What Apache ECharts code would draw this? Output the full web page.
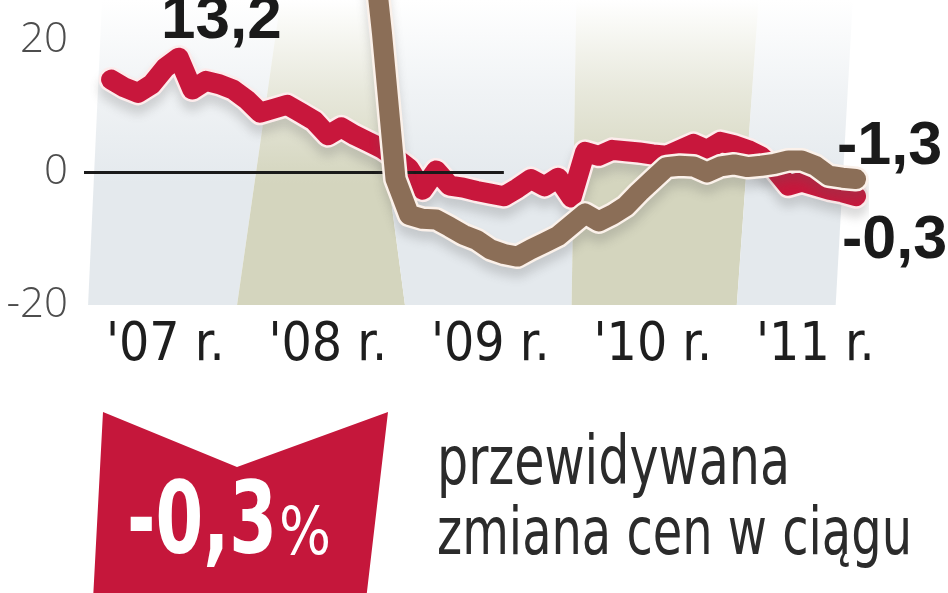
<!DOCTYPE html>
<html>
<head>
<meta charset="utf-8">
<script src="https://cdn.jsdelivr.net/npm/echarts@6/dist/echarts.min.js"></script>
<style>
html,body{margin:0;padding:0;background:#fff;}
#chart{width:948px;height:593px;}
</style>
</head>
<body>
<div id="chart"></div>
<script>
// ---- data ----
const months = [];
for (let y = 2007; y <= 2011; y++) {
  for (let m = 1; m <= 12; m++) {
    if (y === 2011 && m > 10) break;
    months.push(y + '-' + (m < 10 ? '0' + m : '' + m));
  }
}
const yearLabels = ["'07 r.", "'08 r.", "'09 r.", "'10 r.", "'11 r."];
const yTicks = [-20, 0, 20];

// red series (monthly, index 0 = 2007-01)
const redValues = [
  null, null, 14.0, 12.8, 12.0, 13.3, 15.8, 17.3, 12.5, 13.8, 13.3, 12.5,
  11.0, 9.0, 9.6, 10.2, 9.0, 7.8, 5.6, 6.8, 5.6, 4.6, 3.6, 2.2,
  0.6, -2.6, 0.3, -2.0, -2.3, -2.8, -3.2, -3.6, -2.4, -1.0, -2.1, -0.8,
  -3.8, 3.1, 2.5, 3.4, 3.2, 3.0, 2.7, 2.5, 3.4, 4.3, 3.4, 4.6,
  4.1, 3.4, 2.4, 0.5, -2.0, -1.4, -2.0, -2.6, -3.0, -3.6
];
// brown series
const brownValues = [
  null, null, null, null, null, null, null, null, null, null, null, null,
  null, null, null, null, null, null, null, null, 48, 40, 21, -1.0,
  -6.4, -7.0, -7.1, -8.2, -9.4, -10.2, -11.6, -12.3, -12.7, -11.6, -10.6, -9.6,
  -7.9, -6.2, -7.4, -6.4, -5.1, -3.0, -1.1, 0.8, 1.0, 0.9, 0.0, 0.9,
  1.2, 0.8, 1.0, 1.3, 1.8, 1.8, 1.0, -0.5, -0.8, -1.0
];
// background year bands: edges (in month index) measured at the -20 level and at the +20 level
const bandEdgesLow = [0.3, 11.3, 23.7, 36.0, 48.2, 55.5];
const bandEdgesHigh = [1.2, 14.1, 21.1, 36.3, 49.6, 56.6];
const zeroLineEnd = 31;

const annotations = ['13,2', '-1,3', '-0,3'];
const bigValue = '-0,3';
const captionLines = ['przewidywana', 'zmiana cen w ciągu'];

// ---- helpers ----
const measureCtx = document.createElement('canvas').getContext('2d');
function fitScale(text, font, width) {
  measureCtx.font = font;
  return width / measureCtx.measureText(text).width;
}

// ---- chart ----
const chart = echarts.init(document.getElementById('chart'), null, {renderer: 'canvas'});
const narrow = '"DejaVu Sans Condensed", "Liberation Sans Narrow", sans-serif';
const bandColors = [[228, 233, 237], [212, 213, 190]];

const bandData = [];
for (let i = 0; i < bandEdgesLow.length - 1; i++) {
  bandData.push([bandEdgesLow[i], bandEdgesLow[i + 1], bandEdgesHigh[i], bandEdgesHigh[i + 1], i % 2]);
}
const Y_MIN = -20, Y_MAX = 26;

function bandItem(params, api) {
  const sl = api.value(0), el = api.value(1), sh = api.value(2), eh = api.value(3);
  const c = bandColors[api.value(4)];
  const at = (lo, hi, y) => lo + (hi - lo) * (y + 20) / 40;
  const pts = [
    api.coord([at(sl, sh, Y_MIN), Y_MIN]),
    api.coord([at(el, eh, Y_MIN), Y_MIN]),
    api.coord([at(el, eh, Y_MAX), Y_MAX]),
    api.coord([at(sl, sh, Y_MAX), Y_MAX])
  ];
  const rgba = a => 'rgba(' + c[0] + ',' + c[1] + ',' + c[2] + ',' + a + ')';
  return {
    type: 'polygon',
    shape: {points: pts},
    style: {
      fill: new echarts.graphic.LinearGradient(0, 0, 0, 1, [
        {offset: 0, color: rgba(0)},
        {offset: 0.3, color: rgba(0.55)},
        {offset: 0.6, color: rgba(1)},
        {offset: 1, color: rgba(1)}
      ])
    }
  };
}

const bigFont = 'bold 100px ' + narrow;
const pctFont = '66px ' + narrow;
const capFont1 = '68px ' + narrow;
const capFont2 = '66px ' + narrow;

const option = {
  animation: false,
  backgroundColor: '#ffffff',
  grid: {left: 84, top: 0, width: 772, height: 305, containLabel: false},
  xAxis: [
    {
      type: 'category',
      data: months,
      boundaryGap: false,
      axisLine: {show: false},
      axisTick: {show: false},
      splitLine: {show: false},
      axisLabel: {
        interval: (idx, val) => val.endsWith('-07'),
        formatter: val => yearLabels[parseInt(val.slice(0, 4)) - 2007],
        fontFamily: narrow,
        fontSize: 53,
        color: '#1e1e1e',
        margin: 15
      }
    },
    {
      type: 'value',
      min: 0,
      max: months.length - 1,
      show: false
    }
  ],
  yAxis: {
    type: 'value',
    min: Y_MIN,
    max: Y_MAX,
    interval: 20,
    axisLine: {show: false},
    axisTick: {show: false},
    splitLine: {show: false},
    axisLabel: {
      showMaxLabel: false,
      formatter: v => (yTicks.indexOf(v) >= 0 ? String(v) : ''),
      fontFamily: '"Open Sans", "Liberation Sans", sans-serif',
      fontWeight: 300,
      fontSize: 42,
      color: '#4d4d4d',
      margin: 16
    }
  },
  series: [
    {
      type: 'custom',
      xAxisIndex: 1,
      yAxisIndex: 0,
      renderItem: bandItem,
      data: bandData,
      z: 1,
      silent: true
    },
    {
      type: 'line',
      data: [],
      z: 2,
      markLine: {
        silent: true,
        symbol: ['none', 'none'],
        label: {show: false},
        lineStyle: {color: '#1a1a1a', width: 3, type: 'solid'},
        data: [[{coord: [0, 0]}, {coord: [zeroLineEnd, 0]}]]
      }
    },
    {
      type: 'line', data: redValues, z: 3, showSymbol: false, symbol: 'none', connectNulls: false,
      lineStyle: {color: '#fdecec', width: 25, cap: 'round', join: 'round',
        shadowColor: 'rgba(90,90,90,0.22)', shadowBlur: 10, shadowOffsetY: 9}
    },
    {
      type: 'line', data: redValues, z: 4, showSymbol: false, symbol: 'none',
      lineStyle: {color: '#c8173c', width: 20, cap: 'round', join: 'round'}
    },
    {
      type: 'line', data: brownValues, z: 5, showSymbol: false, symbol: 'none',
      lineStyle: {color: '#fbf1ea', width: 25, cap: 'round', join: 'round',
        shadowColor: 'rgba(90,90,90,0.22)', shadowBlur: 10, shadowOffsetY: 9}
    },
    {
      type: 'line', data: brownValues, z: 6, showSymbol: false, symbol: 'none',
      lineStyle: {color: '#8b6e57', width: 20, cap: 'round', join: 'round'}
    }
  ],
  graphic: [
    {type: 'text', x: 161, y: 21, z: 100,
      style: {text: annotations[0], font: 'bold 62px "Liberation Sans", sans-serif', fill: '#1a1a1a', verticalAlign: 'middle'}},
    {type: 'text', x: 837, y: 147, z: 100,
      style: {text: annotations[1], font: 'bold 61px "Liberation Sans", sans-serif', fill: '#1a1a1a', verticalAlign: 'middle'}},
    {type: 'text', x: 842, y: 241, z: 100,
      style: {text: annotations[2], font: 'bold 61px "Liberation Sans", sans-serif', fill: '#1a1a1a', verticalAlign: 'middle'}},
    {type: 'polygon', z: 50,
      shape: {points: [[103, 412], [237, 467], [388, 412], [366, 600], [93, 600]]},
      style: {fill: '#c5173b'}},
    {type: 'text', x: 127, y: 527, z: 101, scaleX: fitScale(bigValue, bigFont, 150),
      style: {text: bigValue, font: bigFont, fill: '#ffffff', verticalAlign: 'middle'}},
    {type: 'text', x: 279, y: 537, z: 101, scaleX: fitScale('%', pctFont, 52),
      style: {text: '%', font: pctFont, fill: '#ffffff', verticalAlign: 'middle'}},
    {type: 'text', x: 437, y: 500, z: 100, scaleX: fitScale(captionLines[0], capFont1, 353),
      style: {text: captionLines[0], font: capFont1, fill: '#2b2b2b', verticalAlign: 'bottom'}},
    {type: 'text', x: 437, y: 570, z: 100, scaleX: fitScale(captionLines[1], capFont2, 475),
      style: {text: captionLines[1], font: capFont2, fill: '#2b2b2b', verticalAlign: 'bottom'}}
  ]
};
chart.setOption(option);
</script>
</body>
</html>
